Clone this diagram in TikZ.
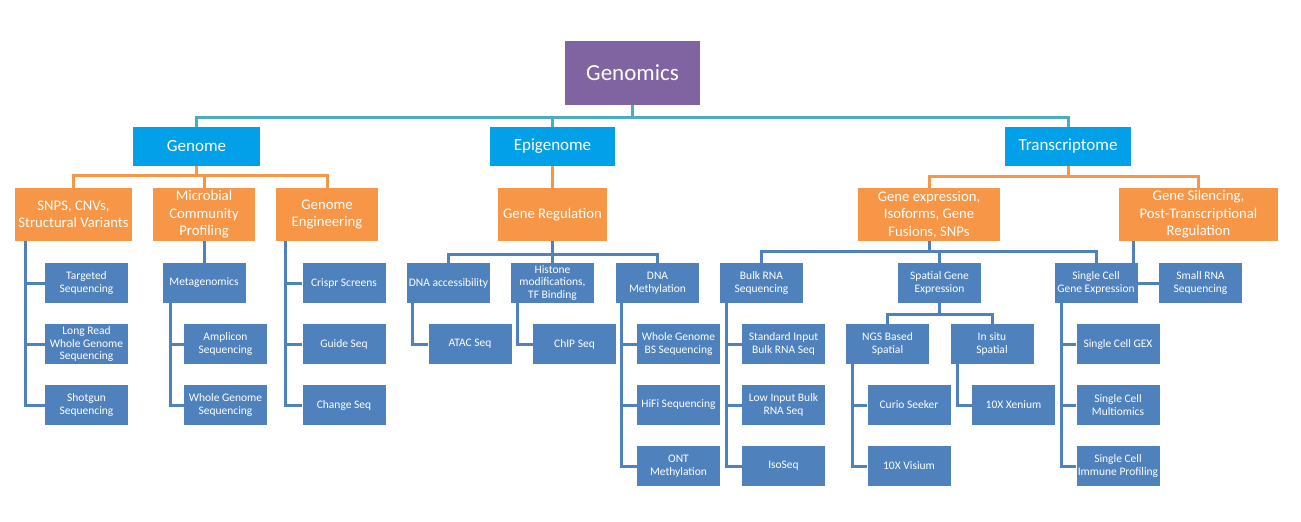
\documentclass[tikz,border=0pt]{standalone}
\usepackage{fontspec}
\setmainfont{Carlito}
\usetikzlibrary{backgrounds}
\definecolor{cPurple}{HTML}{8064A2}
\definecolor{cSky}{HTML}{02A0E8}
\definecolor{cOrange}{HTML}{F79646}
\definecolor{cBlue}{HTML}{4F81BD}
\definecolor{cTeal}{HTML}{4BACC6}
\begin{document}
\begin{tikzpicture}[x=1pt,y=-1pt,
  box/.style={inner sep=1pt, text=white, align=center},
  rootbox/.style={box, fill=cPurple, minimum width=135pt, minimum height=64pt, font=\fontsize{23}{27}\selectfont},
  lvlone/.style={box, fill=cSky, minimum width=126pt, minimum height=39pt, font=\fontsize{17}{20}\selectfont},
  lvltwo/.style={box, fill=cOrange, minimum height=53pt, font=\fontsize{14.7}{17.5}\selectfont},
  leaf/.style={box, fill=cBlue, minimum width=83pt, minimum height=40pt, font=\fontsize{11.5}{12.6}\selectfont},
  tline/.style={draw=cTeal, line width=3pt},
  oline/.style={draw=cOrange, line width=3pt},
  bline/.style={draw=cBlue, line width=3pt}]
\useasboundingbox (0,0) rectangle (1301,522);
% root and level one
\node[rootbox] (G) at (632.5,73) {Genomics};
\node[lvlone, minimum width=127pt] (GEN) at (196.5,146.5) {Genome};
\node[lvlone, minimum width=125pt] (EPI) at (552.5,146.5) {Epigenome};
\node[lvlone] (TR) at (1068,146.5) {Transcriptome};
% level two
\node[lvltwo, minimum width=117pt] (SNP) at (73.5,214.5) {SNPS, CNVs,\\Structural Variants};
\node[lvltwo, minimum width=102pt] (MC) at (204,214.5) {Microbial\\Community\\Profiling};
\node[lvltwo, minimum width=102pt] (GENG) at (327,214.5) {Genome\\Engineering};
\node[lvltwo, minimum width=109pt] (GR) at (552.5,214.5) {Gene Regulation};
\node[lvltwo, minimum width=142pt] (GX) at (929,214.5) {Gene expression,\\Isoforms, Gene\\Fusions, SNPs};
\node[lvltwo, minimum width=159pt] (GS) at (1198.5,214.5) {Gene Silencing,\\Post-Transcriptional\\Regulation};
% genome leaves
\node[leaf] (TS) at (86.5,283) {Targeted\\Sequencing};
\node[leaf] (LR) at (86.5,344) {Long Read\\Whole Genome\\Sequencing};
\node[leaf] (SG) at (86.5,405) {Shotgun\\Sequencing};
\node[leaf] (MG) at (204,283) {Metagenomics};
\node[leaf] (AS) at (225.5,344) {Amplicon\\Sequencing};
\node[leaf] (WG) at (225.5,405) {Whole Genome\\Sequencing};
\node[leaf] (CS) at (344,283) {Crispr Screens};
\node[leaf] (GQ) at (344,344) {Guide Seq};
\node[leaf] (CQ) at (344,405) {Change Seq};
% epigenome leaves
\node[leaf] (DA) at (448.5,283) {DNA accessibility};
\node[leaf] (HM) at (552.5,283) {Histone\\modifications,\\TF Binding};
\node[leaf] (DM) at (657.5,283) {DNA\\Methylation};
\node[leaf] (AT) at (470,344) {ATAC Seq};
\node[leaf] (CH) at (574.5,344) {ChIP Seq};
\node[leaf] (WB) at (678.5,344) {Whole Genome\\BS Sequencing};
\node[leaf] (HF) at (678.5,405) {HiFi Sequencing};
\node[leaf] (ON) at (678.5,466) {ONT\\Methylation};
% transcriptome leaves
\node[leaf] (BK) at (761.5,283) {Bulk RNA\\Sequencing};
\node[leaf] (SI) at (783.5,344) {Standard Input\\Bulk RNA Seq};
\node[leaf] (LI) at (783.5,405) {Low Input Bulk\\RNA Seq};
\node[leaf] (IQ) at (783.5,466) {IsoSeq};
\node[leaf] (SP) at (939.5,283) {Spatial Gene\\Expression};
\node[leaf] (NG) at (887.5,344) {NGS Based\\Spatial};
\node[leaf] (IS) at (992,344) {In situ\\Spatial};
\node[leaf] (CU) at (909,405) {Curio Seeker};
\node[leaf] (VI) at (909,466) {10X Visium};
\node[leaf] (XE) at (1013.5,405) {10X Xenium};
\node[leaf] (SC) at (1096,283) {Single Cell\\Gene Expression};
\node[leaf] (SX) at (1118,344) {Single Cell GEX};
\node[leaf] (SM) at (1118,405) {Single Cell\\Multiomics};
\node[leaf] (SIP) at (1118,466) {Single Cell\\Immune Profiling};
\node[leaf] (SR) at (1200.5,283) {Small RNA\\Sequencing};
\begin{pgfonlayer}{background}
% teal
\draw[tline] (G.south) -- ++(0,12) -| (GEN.north);
\draw[tline] (G.south) -- ++(0,12) -| (EPI.north);
\draw[tline] (G.south) -- ++(0,12) -| (TR.north);
% orange
\draw[oline] (GEN.south) -- ++(0,9.5) -| (SNP.north);
\draw[oline] (GEN.south) -- ++(0,9.5) -| (MC.north);
\draw[oline] (GEN.south) -- ++(0,9.5) -| (GENG.north);
\draw[oline] (EPI.south) -- (GR.north);
\draw[oline] (TR.south) -- ++(0,10) -| (GX.north);
\draw[oline] (TR.south) -- ++(0,10) -| (GS.north);
% blue brackets
\draw[bline] (GR.south) -- ++(0,13) -| (DA.north);
\draw[bline] (GR.south) -- ++(0,13) -| (HM.north);
\draw[bline] (GR.south) -- ++(0,13) -| (DM.north);
\draw[bline] (GX.south) -- ++(0,10.5) -| (BK.north);
\draw[bline] (GX.south) -- ++(0,10.5) -| (SP.north);
\draw[bline] (GX.south) -- ++(0,10.5) -| (SC.north);
\draw[bline] (SP.south) -- ++(0,11) -| (NG.north);
\draw[bline] (SP.south) -- ++(0,11) -| (IS.north);
\draw[bline] (MC.south) -- (MG.north);
\draw[bline] ([xshift=-65.5]GS.south) |- (SR.west);
% side connectors
\draw[bline] ([xshift=10.7]SNP.south west) |- (TS.west);
\draw[bline] ([xshift=10.7]SNP.south west) |- (LR.west);
\draw[bline] ([xshift=10.7]SNP.south west) |- (SG.west);
\draw[bline] ([xshift=8]MG.south west) |- (AS.west);
\draw[bline] ([xshift=8]MG.south west) |- (WG.west);
\draw[bline] ([xshift=9.7]GENG.south west) |- (CS.west);
\draw[bline] ([xshift=9.7]GENG.south west) |- (GQ.west);
\draw[bline] ([xshift=9.7]GENG.south west) |- (CQ.west);
\draw[bline] ([xshift=6]DA.south west) |- (AT.west);
\draw[bline] ([xshift=7]HM.south west) |- (CH.west);
\draw[bline] ([xshift=6]DM.south west) |- (WB.west);
\draw[bline] ([xshift=6]DM.south west) |- (HF.west);
\draw[bline] ([xshift=6]DM.south west) |- (ON.west);
\draw[bline] ([xshift=7]BK.south west) |- (SI.west);
\draw[bline] ([xshift=7]BK.south west) |- (LI.west);
\draw[bline] ([xshift=7]BK.south west) |- (IQ.west);
\draw[bline] ([xshift=7]NG.south west) |- (CU.west);
\draw[bline] ([xshift=7]NG.south west) |- (VI.west);
\draw[bline] ([xshift=7]IS.south west) |- (XE.west);
\draw[bline] ([xshift=7]SC.south west) |- (SX.west);
\draw[bline] ([xshift=7]SC.south west) |- (SM.west);
\draw[bline] ([xshift=7]SC.south west) |- (SIP.west);
\end{pgfonlayer}
\end{tikzpicture}
\end{document}
